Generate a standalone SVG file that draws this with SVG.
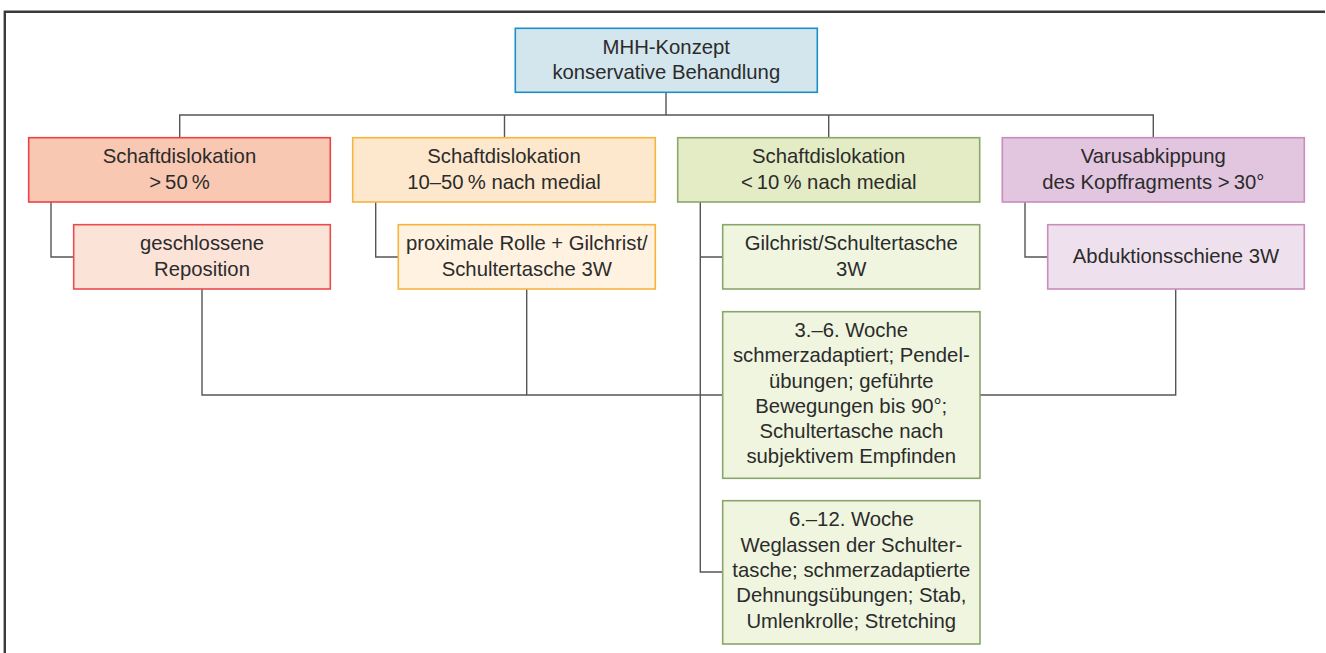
<svg xmlns="http://www.w3.org/2000/svg" width="1326" height="653" viewBox="0 0 1326 653">
<style>
text{font-family:"Liberation Sans",Arial,sans-serif;font-size:20.3px;fill:#2b2b2b;text-anchor:middle}
.c{fill:none;stroke:#555;stroke-width:1.4}
.frame{fill:none;stroke:#3a3a3a;stroke-width:2.4}
rect{stroke-width:1.6}
.blue{fill:#d3e5ed;stroke:#1b90c8}
.red{fill:#f8c8b3;stroke:#ec4146}
.red2{fill:#fce3d8;stroke:#ec4a4e}
.org{fill:#fee8cd;stroke:#f7b33f}
.org2{fill:#fff2e1;stroke:#f7b33f}
.grn{fill:#e4ecc5;stroke:#8ba66b}
.grn2{fill:#eff5df;stroke:#8ba66b}
.pur{fill:#e2c5df;stroke:#ca8cba}
.pur2{fill:#eee0ed;stroke:#ca8cba}
</style>
<rect width="1326" height="653" fill="#fff" stroke="none"/>
<path class="frame" d="M4.8,660 V11.7 H1325"/>
<g id="connectors">
<path class="c" d="M666,92 V115 M179.7,137.7 V115 H1153.3 V137.7 M504.5,115 V137.7 M828.7,115 V137.7"/>
<path class="c" d="M51,202 V257 H73.7"/>
<path class="c" d="M375.7,202 V257 H398.3"/>
<path class="c" d="M700.3,202 V572 H722.7 M700.3,257 H722.7"/>
<path class="c" d="M1025,202 V257 H1047.7"/>
<path class="c" d="M202,289 V395 H1175.7 V289 M526.7,289 V395"/>
</g>
<g id="n0"><rect class="blue" x="515.3" y="28.3" width="302" height="64"/>
<text x="666.3" y="54">MHH-Konzept</text><text x="666.3" y="79">konservative Behandlung</text></g>
<g id="n1"><rect class="red" x="28.7" y="137.7" width="301.6" height="64.3"/>
<text x="179.5" y="163.3">Schaftdislokation</text><text x="179.5" y="189">&gt;&#8201;50&#8201;%</text></g>
<g id="n2"><rect class="org" x="352.7" y="137.7" width="302.6" height="64.3"/>
<text x="504" y="163.3">Schaftdislokation</text><text x="504" y="189">10–50&#8201;% nach medial</text></g>
<g id="n3"><rect class="grn" x="677.7" y="137.7" width="302" height="64.3"/>
<text x="828.7" y="163.3">Schaftdislokation</text><text x="828.7" y="189">&lt;&#8201;10&#8201;% nach medial</text></g>
<g id="n4"><rect class="pur" x="1002.3" y="137.7" width="302" height="64.3"/>
<text x="1153.3" y="163.3">Varusabkippung</text><text x="1153.3" y="189">des Kopffragments &gt;&#8201;30°</text></g>
<g id="n5"><rect class="red2" x="73.7" y="224.7" width="256.6" height="64.3"/>
<text x="202" y="250">geschlossene</text><text x="202" y="275.7">Reposition</text></g>
<g id="n6"><rect class="org2" x="398.3" y="224.7" width="257" height="64.3"/>
<text x="526.8" y="250">proximale Rolle + Gilchrist/</text><text x="526.8" y="275.7">Schultertasche 3W</text></g>
<g id="n7"><rect class="grn2" x="722.7" y="224.7" width="257" height="64.3"/>
<text x="851.2" y="250">Gilchrist/Schultertasche</text><text x="851.2" y="275.7">3W</text></g>
<g id="n8"><rect class="pur2" x="1047.7" y="224.7" width="256.6" height="64.3"/>
<text x="1176" y="263.3">Abduktionsschiene 3W</text></g>
<g id="n9"><rect class="grn2" x="722.7" y="311.7" width="257.3" height="166.6"/>
<text x="851.3" y="336.7">3.–6. Woche</text>
<text x="851.3" y="362.3">schmerzadaptiert; Pendel-</text>
<text x="851.3" y="387.7">übungen; geführte</text>
<text x="851.3" y="412.7">Bewegungen bis 90°;</text>
<text x="851.3" y="437.7">Schultertasche nach</text>
<text x="851.3" y="463.3">subjektivem Empfinden</text></g>
<g id="n10"><rect class="grn2" x="722.7" y="500.7" width="257.3" height="143.3"/>
<text x="851.3" y="526">6.–12. Woche</text>
<text x="851.3" y="551.7">Weglassen der Schulter-</text>
<text x="851.3" y="576.7">tasche; schmerzadaptierte</text>
<text x="851.3" y="601.7">Dehnungsübungen; Stab,</text>
<text x="851.3" y="627.7">Umlenkrolle; Stretching</text></g>
</svg>
